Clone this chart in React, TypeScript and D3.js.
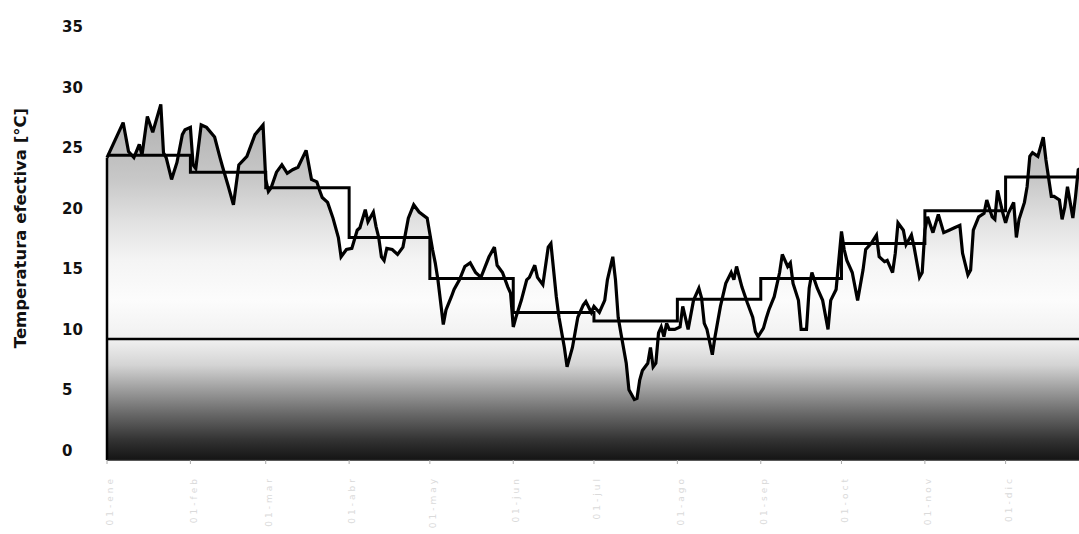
import React from "react";
import * as d3 from "d3";

// Daily effective temperature (day of year, °C)
const DAYS = [
  0, 6, 8, 10, 12, 13, 15, 17, 20, 21, 22, 24, 26, 28, 29, 31, 32, 33, 35, 37,
  40, 42, 43, 45, 47, 49, 52, 55, 58, 59, 60, 61, 63, 65, 67, 69, 71, 74, 76, 78,
  79, 80, 82, 84, 86, 87, 89, 91, 93, 94, 96, 97, 99, 100, 101, 102, 103, 104, 106, 108,
  110, 112, 114, 116, 119, 121, 122, 123, 125, 126, 128, 129, 131, 133, 135, 137, 139, 142, 144, 145,
  147, 149, 150, 151, 152, 154, 156, 157, 159, 160, 162, 164, 165, 167, 168, 170, 171, 173, 175, 177,
  178, 180, 181, 183, 185, 186, 188, 189, 190, 191, 193, 194, 196, 197, 198, 199, 201, 202, 203, 204,
  205, 206, 207, 208, 209, 211, 213, 214, 216, 218, 220, 221, 222, 223, 225, 226, 228, 230, 232, 233,
  234, 236, 238, 240, 241, 242, 244, 245, 246, 248, 250, 251, 253, 254, 255, 257, 258, 260, 261, 262,
  264, 266, 268, 269, 271, 272, 273, 274, 275, 277, 279, 281, 282, 284, 286, 287, 289, 290, 292, 293,
  294, 296, 297, 299, 300, 302, 303, 304, 305, 307, 309, 311, 313, 315, 317, 318, 320, 321, 322, 324,
  326, 327, 329, 330, 331, 333, 334, 335, 337, 338, 339, 341, 342, 343, 344, 346, 348, 349, 351, 352,
  354, 355, 356, 357, 359, 360, 361, 364,
];

const DAILY_TEMP = [
  24.2, 27.1, 24.7, 24.2, 25.3, 24.4, 27.6, 26.3, 28.6, 24.6, 24.2, 22.4, 23.8, 26.1, 26.5, 26.7, 23.6, 23.3, 26.9, 26.7,
  25.9, 24.2, 23.4, 21.9, 20.3, 23.6, 24.3, 26.1, 26.9, 22.4, 21.4, 21.7, 23.0, 23.6, 22.9, 23.2, 23.4, 24.8, 22.4, 22.2,
  21.5, 20.9, 20.5, 19.2, 17.6, 16.0, 16.6, 16.7, 18.2, 18.4, 19.9, 18.9, 19.7, 18.5, 17.6, 16.0, 15.7, 16.7, 16.6, 16.2,
  16.8, 19.2, 20.3, 19.7, 19.2, 16.6, 15.5, 14.1, 10.4, 11.6, 12.7, 13.3, 14.1, 15.2, 15.5, 14.7, 14.3, 16.0, 16.8, 15.3,
  14.7, 13.5, 13.0, 10.2, 11.0, 12.4, 14.1, 14.3, 15.3, 14.3, 13.7, 16.8, 17.1, 12.7, 11.0, 8.5, 6.9, 8.5, 11.0, 12.0,
  12.3, 11.4, 11.9, 11.4, 12.4, 14.1, 16.0, 14.1, 11.0, 9.7, 7.2, 5.0, 4.2, 4.3, 5.8, 6.6, 7.2, 8.5, 6.9, 7.2,
  9.7, 10.2, 9.4, 10.5, 10.0, 10.0, 10.2, 11.9, 10.0, 12.4, 13.4, 12.6, 10.5, 10.0, 7.9, 9.4, 11.9, 13.8, 14.7, 14.1,
  15.2, 13.5, 12.2, 11.0, 9.8, 9.4, 10.1, 10.9, 11.6, 12.7, 14.7, 16.2, 15.2, 15.5, 13.8, 12.4, 10.0, 10.0, 13.4, 14.7,
  13.4, 12.4, 10.0, 12.4, 13.3, 15.7, 18.1, 16.6, 15.7, 14.7, 12.4, 14.9, 16.6, 17.1, 17.8, 16.0, 15.6, 15.7, 14.7, 16.3,
  18.8, 18.2, 17.0, 17.8, 16.8, 14.3, 14.7, 18.2, 19.3, 18.0, 19.5, 18.0, 18.2, 18.4, 18.6, 16.3, 14.5, 14.9, 18.2, 19.3,
  19.6, 20.7, 19.3, 19.1, 21.5, 19.6, 18.8, 19.6, 20.5, 17.6, 19.1, 20.5, 21.8, 24.3, 24.6, 24.3, 25.9, 24.0, 21.0, 21.0,
  20.7, 19.1, 20.1, 21.8, 19.2, 21.0, 23.2, 23.6,
];

// Monthly mean (stepped line)
const MONTH_START_DAY = [0, 31, 59, 90, 120, 151, 181, 212, 243, 273, 304, 334];
const MONTH_MEAN = [24.4, 23.0, 21.7, 17.6, 14.2, 11.4, 10.7, 12.5, 14.2, 17.1, 19.8, 22.6];
const MONTH_LABELS = [
  "01-ene", "01-feb", "01-mar", "01-abr", "01-may", "01-jun",
  "01-jul", "01-ago", "01-sep", "01-oct", "01-nov", "01-dic",
];

// Reference threshold (horizontal line)
const THRESHOLD = 9.2;

const Y_TICKS = [0, 5, 10, 15, 20, 25, 30, 35];
const Y_TITLE = "Temperatura efectiva [°C]";

export default function App() {
  const width = 1079;
  const height = 534;
  const yFloor = -0.8;

  const x = d3.scaleLinear().domain([0, 365]).range([107, 1089]);
  const y = d3.scaleLinear().domain([yFloor, 35]).range([460, 27]);

  const pts: [number, number][] = DAYS.map((d, i) => [d, DAILY_TEMP[i]]);
  const line = d3
    .line<[number, number]>()
    .x((d) => x(d[0]))
    .y((d) => y(d[1]));
  const area = d3
    .area<[number, number]>()
    .x((d) => x(d[0]))
    .y0(y(yFloor))
    .y1((d) => y(d[1]));

  const stepPts: [number, number][] = MONTH_START_DAY.map(
    (d, i) => [d, MONTH_MEAN[i]] as [number, number]
  ).concat([[365, MONTH_MEAN[MONTH_MEAN.length - 1]]]);
  const step = d3
    .line<[number, number]>()
    .x((d) => x(d[0]))
    .y((d) => y(d[1]))
    .curve(d3.curveStepAfter);

  const gy0 = y(yFloor);
  const gy1 = 100;

  return (
    <svg
      width={width}
      height={height}
      style={{ position: "absolute", left: 0, top: 0, background: "#fff" }}
    >
      <defs>
        <linearGradient
          id="tempFill"
          gradientUnits="userSpaceOnUse"
          x1={0}
          x2={0}
          y1={gy0}
          y2={gy1}
        >
          <stop offset="0" stopColor="#141414" />
          <stop offset="0.056" stopColor="#333" />
          <stop offset="0.125" stopColor="#666" />
          <stop offset="0.194" stopColor="#9c9c9c" />
          <stop offset="0.264" stopColor="#d4d4d4" />
          <stop offset="0.333" stopColor="#f0f0f0" />
          <stop offset="0.444" stopColor="#fcfcfc" />
          <stop offset="0.556" stopColor="#f4f4f4" />
          <stop offset="0.667" stopColor="#e0e0e0" />
          <stop offset="0.778" stopColor="#c8c8c8" />
          <stop offset="1" stopColor="#acacac" />
        </linearGradient>
      </defs>

      {/* area under the daily series */}
      <path d={area(pts) ?? ""} fill="url(#tempFill)" />
      <line
        x1={x(0)}
        x2={x(0)}
        y1={y(DAILY_TEMP[0])}
        y2={gy0}
        stroke="#000"
        strokeWidth={2.5}
      />

      {/* x axis baseline and month ticks */}
      <line x1={x(0)} x2={width} y1={gy0} y2={gy0} stroke="#222" strokeWidth={1.5} />
      {MONTH_START_DAY.map((d, i) => (
        <line
          key={"t" + i}
          x1={x(d)}
          x2={x(d)}
          y1={gy0}
          y2={gy0 + 4}
          stroke="#aaa"
          strokeWidth={1}
        />
      ))}

      {/* threshold */}
      <line
        x1={x(0)}
        x2={width}
        y1={y(THRESHOLD)}
        y2={y(THRESHOLD)}
        stroke="#000"
        strokeWidth={2.5}
      />

      {/* monthly means */}
      <path d={step(stepPts) ?? ""} fill="none" stroke="#000" strokeWidth={3} />

      {/* daily series */}
      <path
        d={line(pts) ?? ""}
        fill="none"
        stroke="#000"
        strokeWidth={3.2}
        strokeLinejoin="miter"
        strokeMiterlimit={3}
      />

      {/* y tick labels */}
      {Y_TICKS.map((t) => (
        <text
          key={"y" + t}
          x={62}
          y={y(t)}
          dy="0.35em"
          fontFamily="DejaVu Sans, Verdana, sans-serif"
          fontWeight="bold"
          fontSize={15}
          fill="#111"
        >
          {t}
        </text>
      ))}

      {/* y title */}
      <text
        transform={`translate(20, 228) rotate(-90)`}
        textAnchor="middle"
        dy="0.35em"
        fontFamily="DejaVu Sans, Verdana, sans-serif"
        fontWeight="bold"
        fontSize={16.5}
        fill="#111"
      >
        {Y_TITLE}
      </text>

      {/* month labels */}
      {MONTH_START_DAY.map((d, i) => (
        <text
          key={"m" + i}
          transform={`translate(${x(d) + 3}, 476) rotate(-90)`}
          textAnchor="end"
          dy="0.35em"
          fontFamily="DejaVu Sans, sans-serif"
          fontSize={9}
          letterSpacing={3}
          fill="#dadada"
        >
          {MONTH_LABELS[i]}
        </text>
      ))}
    </svg>
  );
}
